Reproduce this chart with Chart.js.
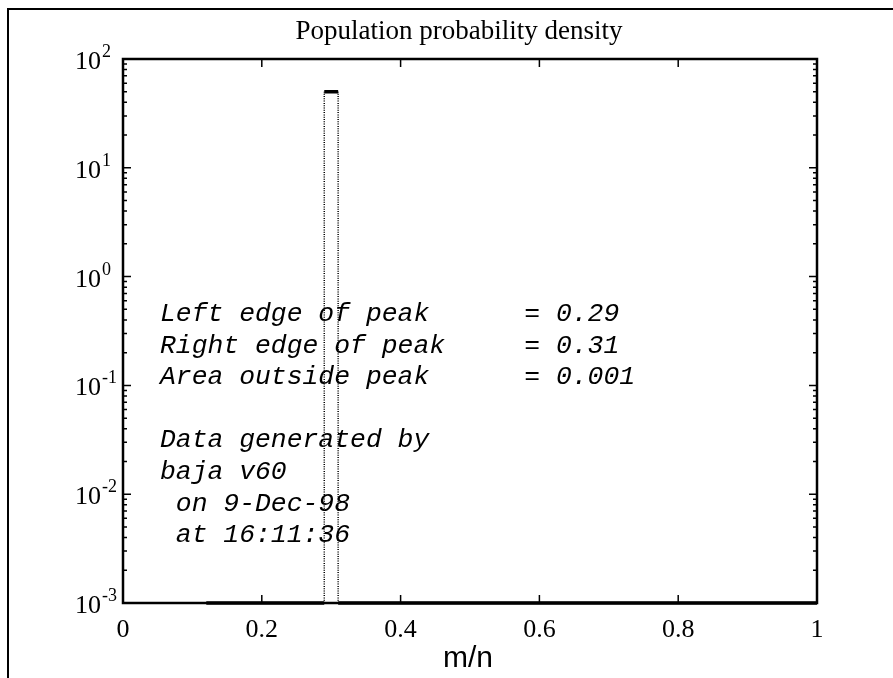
<!DOCTYPE html>
<html>
<head>
<meta charset="utf-8">
<script src="https://cdn.jsdelivr.net/npm/chart.js@4.4.1/dist/chart.umd.min.js"></script>
<style>
  html, body { margin: 0; padding: 0; background: #fff; }
  canvas { display: block; }
</style>
</head>
<body>
<canvas id="densityChart" width="893" height="678"></canvas>
<script>
// Axis ticks
const xTickValues = [0, 0.2, 0.4, 0.6, 0.8, 1];
const xTickLabels = ["0", "0.2", "0.4", "0.6", "0.8", "1"];
const yDecades = [-3, -2, -1, 0, 1, 2];

// Density histogram pieces (x = m/n, y = density)
const tailX = [0, 0.12];
const tailY = [0.001, 0.001];
const floorLeftX = [0.12, 0.29];
const floorLeftY = [0.001, 0.001];
const floorRightX = [0.31, 1];
const floorRightY = [0.001, 0.001];
const peakTopX = [0.29, 0.31];
const peakTopY = [50, 50];
const peakLeftX = [0.29, 0.29];
const peakRightX = [0.31, 0.31];
const peakSideY = [0.001, 50];

const infoLines = [
  "Left edge of peak      = 0.29",
  "Right edge of peak     = 0.31",
  "Area outside peak      = 0.001",
  "",
  "Data generated by",
  "baja v60",
  " on 9-Dec-98",
  " at 16:11:36"
];

const pts = (xs, ys) => xs.map((x, i) => ({ x, y: ys[i] }));

function seg(xs, ys, width, dash) {
  return {
    data: pts(xs, ys),
    borderColor: "#000",
    borderWidth: width,
    borderDash: dash || [],
    pointRadius: 0,
    showLine: true,
    fill: false,
    tension: 0,
    clip: 6
  };
}

const serif = "'Liberation Serif', 'Times New Roman', serif";

const framePlugin = {
  id: "frame",
  beforeDatasetsDraw(chart) {
    const { ctx, chartArea: a } = chart;
    ctx.save();
    ctx.strokeStyle = "#000";
    ctx.lineWidth = 2.5;
    ctx.strokeRect(a.left, a.top, a.right - a.left, a.bottom - a.top);
    ctx.restore();
  },
  afterDraw(chart) {
    const { ctx, chartArea: a } = chart;
    const xs = chart.scales.x, ys = chart.scales.y;
    ctx.save();
    ctx.strokeStyle = "#000";
    ctx.fillStyle = "#000";

    // x ticks, top and bottom, pointing inward
    ctx.lineWidth = 1.5;
    ctx.beginPath();
    xTickValues.forEach(v => {
      const px = xs.getPixelForValue(v);
      ctx.moveTo(px, a.bottom); ctx.lineTo(px, a.bottom - 8);
      ctx.moveTo(px, a.top); ctx.lineTo(px, a.top + 8);
    });
    // y ticks, major and minor, both sides
    yDecades.forEach(d => {
      const py = ys.getPixelForValue(Math.pow(10, d));
      ctx.moveTo(a.left, py); ctx.lineTo(a.left + 8, py);
      ctx.moveTo(a.right, py); ctx.lineTo(a.right - 8, py);
      if (d < 2) {
        for (let m = 2; m <= 9; m++) {
          const pm = ys.getPixelForValue(m * Math.pow(10, d));
          ctx.moveTo(a.left, pm); ctx.lineTo(a.left + 4, pm);
          ctx.moveTo(a.right, pm); ctx.lineTo(a.right - 4, pm);
        }
      }
    });
    ctx.stroke();

    // y labels as powers of ten
    ctx.textBaseline = "alphabetic";
    ctx.textAlign = "left";
    yDecades.forEach(d => {
      const py = ys.getPixelForValue(Math.pow(10, d));
      ctx.font = "26px " + serif;
      ctx.fillText("10", 75, py + 10);
      const w = ctx.measureText("10").width;
      ctx.font = "18px " + serif;
      ctx.fillText(String(d), 75 + w + 1, py - 2);
    });

    // x labels
    ctx.textAlign = "center";
    ctx.font = "26px " + serif;
    xTickValues.forEach((v, i) => {
      ctx.fillText(xTickLabels[i], xs.getPixelForValue(v), 637);
    });

    // titles
    ctx.font = "27px " + serif;
    ctx.fillText("Population probability density", 459, 39);
    ctx.font = "30px 'Liberation Sans', Arial, sans-serif";
    ctx.fillText("m/n", 468, 667);

    // peak summary
    ctx.textAlign = "left";
    ctx.font = "italic 26.4px 'Liberation Mono', 'Courier New', monospace";
    infoLines.forEach((t, i) => {
      if (t) ctx.fillText(t, 160, 321 + i * 31.6);
    });

    // outer frame
    ctx.lineWidth = 2;
    ctx.beginPath();
    ctx.moveTo(8, 678); ctx.lineTo(8, 9); ctx.lineTo(893, 9);
    ctx.stroke();
    ctx.restore();
  }
};

new Chart(document.getElementById("densityChart"), {
  type: "line",
  data: {
    datasets: [
      seg(tailX, tailY, 1, [1, 1.5]),
      seg(floorLeftX, floorLeftY, 3.5),
      seg(floorRightX, floorRightY, 3.5),
      seg(peakLeftX, peakSideY, 1.5, [1, 1.3]),
      seg(peakRightX, peakSideY, 1.5, [1, 1.3]),
      seg(peakTopX, peakTopY, 3.5)
    ]
  },
  options: {
    responsive: false,
    animation: false,
    devicePixelRatio: 1,
    layout: { padding: { top: 59, right: 76, left: 0, bottom: 0 } },
    plugins: { legend: { display: false }, tooltip: { enabled: false }, title: { display: false } },
    scales: {
      x: {
        type: "linear",
        min: 0,
        max: 1,
        grid: { display: false },
        border: { display: false },
        ticks: { display: false },
        afterFit: s => { s.height = 75; }
      },
      y: {
        type: "logarithmic",
        min: 0.001,
        max: 100,
        grid: { display: false },
        border: { display: false },
        ticks: { display: false },
        afterFit: s => { s.width = 123; }
      }
    }
  },
  plugins: [framePlugin]
});
</script>
</body>
</html>
